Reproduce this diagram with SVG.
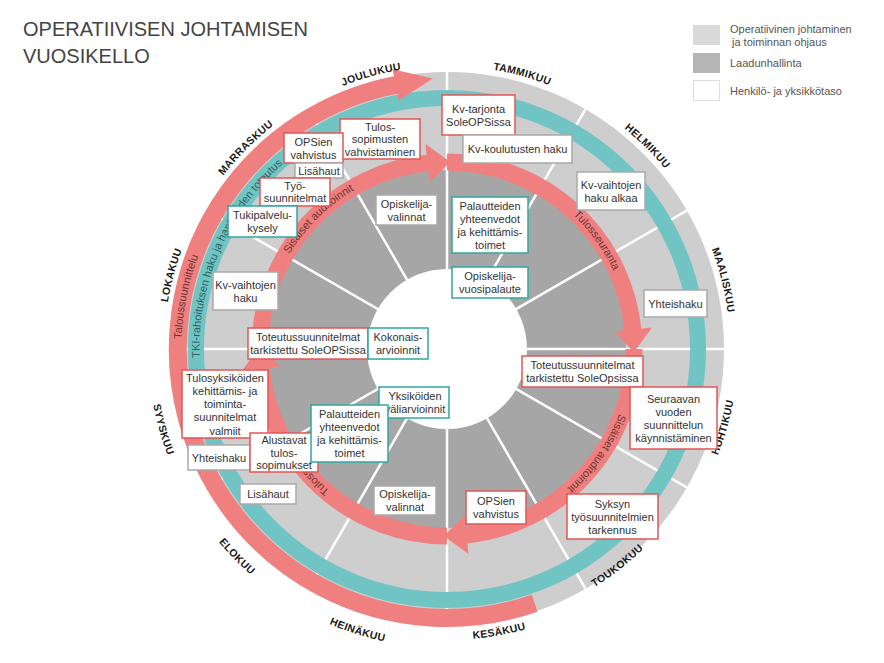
<svg xmlns="http://www.w3.org/2000/svg" width="884" height="663" viewBox="0 0 884 663">
<defs>
<style>
text{font-family:"Liberation Sans",Arial,sans-serif}
.bx{fill:#fff;stroke-width:1.5}
.r{stroke:#e25656}
.t{stroke:#2fa6a1}
.g{stroke:#a9a9a9}
.bt{font-size:11px;fill:#333;text-anchor:middle}
.mo{font-size:10.5px;font-weight:bold;fill:#1a1a1a;text-anchor:middle;letter-spacing:0.3px}
.arc{font-size:11px;fill:#6a3434;text-anchor:middle}
.pk{fill:none;stroke:#f07f7f;stroke-width:17}
.ph{fill:#f07f7f}
.sep{stroke:#fff;stroke-width:2.5}
.lg{font-size:11px;fill:#555}
</style>
<path id="cwIn" d="M447 165 A184 184 0 1 1 447 533 A184 184 0 1 1 447 165"/>
<path id="cwTeal" d="M447 101.5 A247.5 247.5 0 1 1 447 596.5 A247.5 247.5 0 1 1 447 101.5"/>
<path id="cwOut" d="M447 83.5 A265.5 265.5 0 1 1 447 614.5 A265.5 265.5 0 1 1 447 83.5"/>
<path id="cwMo" d="M447 66 A283 283 0 1 1 447 632 A283 283 0 1 1 447 66"/>
<path id="ccwA" d="M447 50 A299 299 0 1 0 447 648 A299 299 0 1 0 447 50"/>
<path id="ccwB" d="M447 58 A291 291 0 1 0 447 640 A291 291 0 1 0 447 58"/>
<path id="ccwC" d="M447 69 A280 280 0 1 0 447 629 A280 280 0 1 0 447 69"/>
</defs>
<rect width="884" height="663" fill="#fff"/>

<g id="title">
<text x="23" y="36" font-size="20" fill="#444">OPERATIIVISEN JOHTAMISEN</text>
<text x="23" y="63" font-size="20" fill="#444">VUOSIKELLO</text>
</g>

<g id="legend">
<rect x="693" y="25" width="27" height="20" fill="#d9d9d9"/>
<text class="lg" x="730" y="33">Operatiivinen johtaminen</text>
<text class="lg" x="732" y="46">ja toiminnan ohjaus</text>
<rect x="693" y="53" width="27" height="20" fill="#b5b5b5"/>
<text class="lg" x="730" y="67">Laadunhallinta</text>
<rect x="693.5" y="80.5" width="26" height="20" fill="#fff" stroke="#ddd"/>
<text class="lg" x="730" y="95">Henkilö- ja yksikkötaso</text>
</g>

<g id="wheel">
<circle cx="447" cy="349" r="277" fill="#cecece"/>
<circle cx="447" cy="349" r="179" fill="#a6a6a6"/>
<g id="separators">
<line class="sep" x1="447" y1="72" x2="447" y2="626"/>
<line class="sep" x1="585.5" y1="109.1" x2="308.5" y2="588.9"/>
<line class="sep" x1="686.9" y1="210.5" x2="207.1" y2="487.5"/>
<line class="sep" x1="724" y1="349" x2="170" y2="349"/>
<line class="sep" x1="686.9" y1="487.5" x2="207.1" y2="210.5"/>
<line class="sep" x1="585.5" y1="588.9" x2="308.5" y2="109.1"/>
</g>
<circle cx="447" cy="349" r="251" fill="none" stroke="#70c5c4" stroke-width="16"/>
<circle cx="447" cy="349" r="80" fill="#fff"/>
</g>

<g id="connectors">
<path d="M534.6 603.3 A269 269 0 1 1 398 84.5" fill="none" stroke="#f07f7f" stroke-width="18"/>
<polygon class="ph" points="392.6,69.2 432.8,78.4 398.7,100.6"/>
<path class="pk" d="M447 162 A187 187 0 0 1 633.1 331.1"/>
<polygon class="ph" points="651.9,327.5 634,352.3 614.1,331.4"/>
<path class="pk" d="M634 349 A187 187 0 0 1 464.9 535.1"/>
<polygon class="ph" points="468.5,553.9 443.7,536 464.6,516.1"/>
<path class="pk" d="M447 536 A187 187 0 0 1 260.9 366.9"/>
<polygon class="ph" points="242.1,370.5 260,345.7 279.9,366.6"/>
<path class="pk" d="M260 349 A187 187 0 0 1 429.1 162.9"/>
<polygon class="ph" points="425.5,144.1 450.3,162 429.4,181.9"/>
<text class="arc"><textPath href="#cwIn" startOffset="87.6%">Sisäiset auditoinnit</textPath></text>
<text class="arc"><textPath href="#cwIn" startOffset="15%">Tulosseuranta</textPath></text>
<text class="arc"><textPath href="#cwIn" startOffset="34.7%">Sisäiset auditoinnit</textPath></text>
<text class="arc"><textPath href="#cwIn" startOffset="64%">Tulosseuranta</textPath></text>
<text font-size="11" fill="#2f5d5c"><textPath href="#cwTeal" startOffset="74.44%">TKI-rahoituksen haku ja hankkeiden toteutus</textPath></text>
<text font-size="11" fill="#6a3434"><textPath href="#cwOut" startOffset="75.6%">Taloussuunnittelu</textPath></text>
</g>

<g id="months">
<text class="mo"><textPath href="#cwMo" startOffset="79.17%">LOKAKUU</textPath></text>
<text class="mo"><textPath href="#cwMo" startOffset="87.5%">MARRASKUU</textPath></text>
<text class="mo"><textPath href="#cwMo" startOffset="95.7%">JOULUKUU</textPath></text>
<text class="mo"><textPath href="#cwMo" startOffset="4.25%">TAMMIKUU</textPath></text>
<text class="mo"><textPath href="#cwMo" startOffset="12.4%">HELMIKUU</textPath></text>
<text class="mo"><textPath href="#cwMo" startOffset="21.1%">MAALISKUU</textPath></text>
<text class="mo"><textPath href="#ccwB" startOffset="70.6%">HUHTIKUU</textPath></text>
<text class="mo"><textPath href="#ccwC" startOffset="60.6%">TOUKOKUU</textPath></text>
<text class="mo"><textPath href="#ccwB" startOffset="52.9%">KESÄKUU</textPath></text>
<text class="mo"><textPath href="#ccwA" startOffset="45.1%">HEINÄKUU</textPath></text>
<text class="mo"><textPath href="#ccwA" startOffset="37.4%">ELOKUU</textPath></text>
<text class="mo"><textPath href="#ccwA" startOffset="29.4%">SYYSKUU</textPath></text>
</g>

<g id="n1"><rect class="bx r" x="442" y="95" width="73" height="40"/><text class="bt" x="478.5" y="112.5">Kv-tarjonta</text><text class="bt" x="478.5" y="125.5">SoleOPSissa</text></g>
<g id="n2"><rect class="bx g" x="463" y="135" width="109" height="28"/><text class="bt" x="517.5" y="153">Kv-koulutusten haku</text></g>
<g id="n3"><rect class="bx g" x="577" y="172" width="68" height="38"/><text class="bt" x="611" y="188.5">Kv-vaihtojen</text><text class="bt" x="611" y="201.5">haku alkaa</text></g>
<g id="n4"><rect class="bx t" x="452" y="197" width="76" height="56"/><text class="bt" x="490" y="209.5">Palautteiden</text><text class="bt" x="490" y="222.5">yhteenvedot</text><text class="bt" x="490" y="235.5">ja kehittämis-</text><text class="bt" x="490" y="248.5">toimet</text></g>
<g id="n5"><rect class="bx t" x="452" y="267" width="76" height="31"/><text class="bt" x="490" y="280">Opiskelija-</text><text class="bt" x="490" y="293">vuosipalaute</text></g>
<g id="n6"><rect class="bx g" x="644" y="290" width="63" height="27"/><text class="bt" x="675.5" y="307.5">Yhteishaku</text></g>
<g id="n7"><rect class="bx r" x="522" y="356" width="121" height="31"/><text class="bt" x="582.5" y="369">Toteutussuunnitelmat</text><text class="bt" x="582.5" y="382">tarkistettu SoleOpsissa</text></g>
<g id="n8"><rect class="bx r" x="630" y="387" width="87" height="62"/><text class="bt" x="673.5" y="402.5">Seuraavan</text><text class="bt" x="673.5" y="415.5">vuoden</text><text class="bt" x="673.5" y="428.5">suunnittelun</text><text class="bt" x="673.5" y="441.5">käynnistäminen</text></g>
<g id="n9"><rect class="bx r" x="567" y="494" width="91" height="45"/><text class="bt" x="612.5" y="507.5">Syksyn</text><text class="bt" x="612.5" y="520.5">työsuunnitelmien</text><text class="bt" x="612.5" y="533.5">tarkennus</text></g>
<g id="n10"><rect class="bx r" x="466" y="491" width="60" height="33"/><text class="bt" x="496" y="505">OPSien</text><text class="bt" x="496" y="518">vahvistus</text></g>
<g id="n11"><rect class="bx g" x="374" y="486" width="62" height="29"/><text class="bt" x="405" y="498">Opiskelija-</text><text class="bt" x="405" y="511">valinnat</text></g>
<g id="n12"><rect class="bx g" x="240" y="484" width="56" height="20"/><text class="bt" x="268" y="498">Lisähaut</text></g>
<g id="n13"><rect class="bx g" x="188" y="445" width="62" height="25"/><text class="bt" x="219" y="461.5">Yhteishaku</text></g>
<g id="n19"><rect class="bx r" x="182" y="370" width="86" height="68"/><text class="bt" x="225" y="381.5">Tulosyksiköiden</text><text class="bt" x="225" y="394.8">kehittämis- ja</text><text class="bt" x="225" y="408">toiminta-</text><text class="bt" x="225" y="421.3">suunnitelmat</text><text class="bt" x="225" y="434.6">valmiit</text></g>
<g id="n14"><rect class="bx r" x="250" y="433" width="68" height="39"/><text class="bt" x="284" y="444">Alustavat</text><text class="bt" x="284" y="456.5">tulos-</text><text class="bt" x="284" y="469">sopimukset</text></g>
<g id="n16"><rect class="bx t" x="379" y="387" width="70" height="31"/><text class="bt" x="415" y="400">Yksiköiden</text><text class="bt" x="415" y="413">väliarvioinnit</text></g>
<g id="n15"><rect class="bx t" x="311" y="405" width="77" height="57"/><text class="bt" x="349.5" y="418">Palautteiden</text><text class="bt" x="349.5" y="431">yhteenvedot</text><text class="bt" x="349.5" y="444">ja kehittämis-</text><text class="bt" x="349.5" y="457">toimet</text></g>
<g id="n18"><rect class="bx r" x="248" y="328" width="120" height="31"/><text class="bt" x="308" y="341">Toteutussuunnitelmat</text><text class="bt" x="308" y="354">tarkistettu SoleOPSissa</text></g>
<g id="n17"><rect class="bx t" x="368" y="328" width="60" height="31"/><text class="bt" x="398" y="341">Kokonais-</text><text class="bt" x="398" y="354">arvioinnit</text></g>
<g id="n20"><rect class="bx g" x="213" y="272" width="65" height="38"/><text class="bt" x="245.5" y="288.5">Kv-vaihtojen</text><text class="bt" x="245.5" y="301.5">haku</text></g>
<g id="n21"><rect class="bx g" x="376" y="195" width="61" height="30"/><text class="bt" x="406.5" y="207.5">Opiskelija-</text><text class="bt" x="406.5" y="220.5">valinnat</text></g>
<g id="n22"><rect class="bx r" x="340" y="119" width="80" height="40"/><text class="bt" x="380" y="130.5">Tulos-</text><text class="bt" x="380" y="143">sopimusten</text><text class="bt" x="380" y="155.5">vahvistaminen</text></g>
<g id="n23"><rect class="bx r" x="284" y="133" width="59" height="30"/><text class="bt" x="313.5" y="145.5">OPSien</text><text class="bt" x="313.5" y="158.5">vahvistus</text></g>
<g id="n24"><rect class="bx g" x="295" y="163" width="48" height="15"/><text class="bt" x="319" y="174.5">Lisähaut</text></g>
<g id="n25"><rect class="bx r" x="260" y="178" width="70" height="28"/><text class="bt" x="295" y="190">Työ-</text><text class="bt" x="295" y="202">suunnitelmat</text></g>
<g id="n26"><rect class="bx t" x="228" y="206" width="69" height="31"/><text class="bt" x="262.5" y="219">Tukipalvelu-</text><text class="bt" x="262.5" y="232">kysely</text></g>
</svg>
